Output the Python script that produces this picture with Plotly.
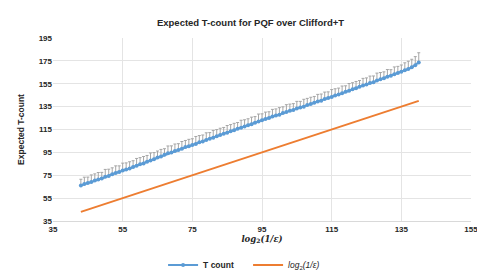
import plotly.graph_objects as go

x_vals = list(range(43, 141))
t_count = [66.0, 67.3, 68.2, 69.0, 70.4, 71.3, 72.1, 73.6, 74.4, 75.9,
           77.0, 77.9, 79.2, 80.1, 80.8, 82.2, 83.4, 84.6, 85.3, 86.9,
           88.0, 88.9, 90.6, 91.4, 92.9, 94.2, 95.0, 96.3, 97.1, 98.2,
           99.6, 100.3, 101.5, 102.4, 103.8, 104.6, 105.9, 107.0, 107.8, 109.2,
           110.1, 111.3, 112.2, 113.5, 114.3, 115.7, 116.6, 117.6, 118.8, 119.6,
           121.0, 122.1, 123.0, 124.2, 125.0, 126.3, 127.2, 128.0, 129.4, 130.2,
           131.3, 132.0, 133.4, 134.3, 135.0, 136.5, 137.2, 138.4, 139.4, 140.2,
           141.6, 142.5, 143.4, 144.7, 145.6, 146.8, 147.9, 148.8, 150.2, 151.0,
           152.3, 153.4, 154.3, 155.6, 156.4, 157.8, 158.9, 159.8, 161.2, 162.0,
           163.3, 164.5, 165.4, 166.8, 167.9, 169.4, 171.2, 173.6]
t_err = [5.5, 6.0, 5.2, 6.3, 5.8, 6.1, 5.4, 6.5, 5.9, 5.6,
         6.2, 5.3, 6.4, 5.7, 6.0, 5.5, 6.3, 5.8, 6.1, 5.4,
         6.5, 5.9, 5.6, 6.2, 5.3, 6.4, 5.7, 6.0, 5.5, 6.3,
         5.8, 6.1, 5.4, 6.5, 5.9, 5.6, 6.2, 5.3, 6.4, 5.7,
         6.0, 5.5, 6.3, 5.8, 6.1, 5.4, 6.5, 5.9, 5.6, 6.2,
         5.3, 6.4, 5.7, 6.0, 5.5, 6.3, 5.8, 6.1, 5.4, 6.5,
         5.9, 5.6, 6.2, 5.3, 6.4, 5.7, 6.0, 5.5, 6.3, 5.8,
         6.1, 5.4, 6.5, 5.9, 5.6, 6.2, 5.3, 6.4, 5.7, 6.0,
         5.5, 6.3, 5.8, 6.1, 5.4, 6.5, 5.9, 5.6, 6.2, 5.3,
         6.4, 5.7, 6.0, 6.5, 6.8, 7.0, 7.5, 8.5]
log_vals = [float(v) for v in x_vals]

x_ticks = [35, 55, 75, 95, 115, 135, 155]
y_ticks = [35, 55, 75, 95, 115, 135, 155, 175, 195]

fig = go.Figure()
fig.add_trace(go.Scatter(
    x=x_vals, y=t_count, mode="lines+markers", name="<b>T count</b>",
    line=dict(color="#5b9bd5", width=2),
    marker=dict(color="#5b9bd5", size=4),
    error_y=dict(type="data", array=t_err, symmetric=False,
                 arrayminus=[0] * len(t_err), color="#a6a6a6",
                 thickness=1, width=1.5),
))
fig.add_trace(go.Scatter(
    x=x_vals, y=log_vals, mode="lines",
    name="<i>log</i><sub>2</sub><i>(1/ε)</i>",
    line=dict(color="#ed7d31", width=2),
))

tick_font = dict(family="Liberation Sans", size=8, color="#262626")
fig.update_layout(
    width=485, height=273,
    paper_bgcolor="white", plot_bgcolor="white",
    margin=dict(l=45, r=22, t=30, b=60, autoexpand=False),
    title=dict(text="<b>Expected T-count for PQF over Clifford+T</b>",
               x=0.5, xanchor="center", xref="container",
               y=1 - 15 / 273, yanchor="middle", yref="container",
               font=dict(family="Liberation Sans", size=9.5, color="#262626")),
    xaxis=dict(range=[35, 155], tickvals=x_ticks, ticktext=[f"<b>{v}</b>" for v in x_ticks],
               showgrid=True, gridcolor="#e4e4e4", gridwidth=1, zeroline=False,
               showline=True, linecolor="#d9d9d9", ticks="", tickfont=tick_font,
               title=dict(text="<b><i>log</i><sub>2</sub><i>(1/ε)</i></b>", standoff=2,
                          font=dict(family="DejaVu Serif", size=8.5, color="#262626"))),
    yaxis=dict(range=[35, 195], tickvals=y_ticks, ticktext=[f"<b>{v}</b>" for v in y_ticks],
               showgrid=True, gridcolor="#e4e4e4", gridwidth=1, zeroline=False,
               showline=False, ticks="", tickfont=tick_font,
               title=dict(text="<b>Expected T-count</b>", standoff=12,
                          font=dict(family="Liberation Sans", size=8.5, color="#262626"))),
    legend=dict(orientation="h", xref="container", yref="container",
                x=0.495, xanchor="center", y=1 - 257 / 273, yanchor="middle",
                font=dict(family="Liberation Sans", size=8.5, color="#262626"),
                itemwidth=30, tracegroupgap=0, entrywidth=40, entrywidthmode="pixels"),
    showlegend=True,
)
fig.write_html("out.html")
